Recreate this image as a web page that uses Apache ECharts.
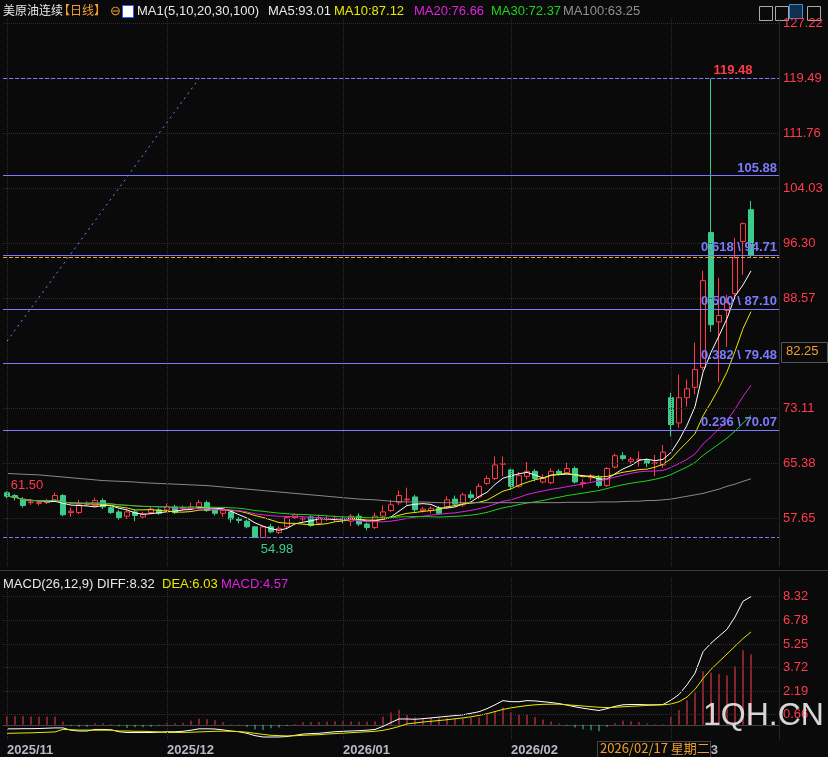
<!DOCTYPE html>
<html><head><meta charset="utf-8">
<script src="https://cdn.jsdelivr.net/npm/echarts@6/dist/echarts.min.js"></script>
<style>html,body{margin:0;padding:0;background:#0a0a0a}#c{width:828px;height:757px}</style>
</head><body><div id="c"></div><script>
const opens  = [61.3,60.9,60.4,59.9,59.8,59.9,60.2,60.9,58.5,58.5,59.7,59.5,60.2,59.2,58.6,58.0,58.6,57.9,58.5,58.9,58.9,59.3,59.1,59.1,59.3,59.9,58.8,58.4,58.6,57.6,57.3,56.5,55.0,56.5,55.7,56.5,57.8,57.6,57.9,57.0,57.6,57.6,57.7,57.3,58.0,56.9,56.4,58.0,58.8,59.9,60.3,60.7,58.8,58.8,59.1,59.3,60.4,59.6,61.0,60.7,62.6,63.3,65.3,64.5,62.2,63.6,64.3,62.8,62.7,64.3,64.1,64.7,62.6,63.4,63.4,62.3,64.9,66.5,65.7,65.9,65.8,65.4,65.2,74.65,71.1,74.65,76.1,78.9,97.85,85.3,86.9,89.3,96.6,101.07];
const closes = [60.8,60.6,59.5,60.0,59.9,60.1,60.9,58.2,58.7,59.6,59.8,60.2,59.3,58.5,57.8,58.6,58.1,58.3,59.0,58.4,59.3,58.5,59.2,59.3,59.9,58.8,58.4,58.8,57.6,57.4,56.5,55.0,56.5,55.8,56.3,57.8,58.2,57.7,56.7,57.8,57.7,57.7,57.5,58.0,56.9,56.4,58.0,58.6,59.6,60.9,60.4,58.9,59.0,59.1,58.4,60.3,59.7,61.0,60.6,62.2,63.3,65.2,65.4,62.2,63.7,64.3,63.3,63.3,64.3,64.0,64.7,62.8,62.7,63.6,62.3,64.7,66.5,66.1,66.0,66.0,65.4,65.5,67.0,70.86,74.65,75.9,78.6,91.1,84.9,86.2,88.0,94.3,99.1,94.71];
const lows   = [60.5,60.2,59.2,59.6,59.5,59.7,60.0,58.0,57.9,58.3,59.4,59.3,59.0,58.3,57.5,57.6,57.3,57.7,58.3,58.2,58.7,58.3,58.8,58.9,59.1,58.6,58.1,57.9,57.1,57.0,56.3,54.98,54.98,55.6,55.5,56.3,57.6,57.3,56.5,56.8,57.3,57.3,57.0,56.6,56.6,56.0,56.2,57.6,58.6,59.6,59.6,58.6,58.5,58.4,58.2,59.1,59.4,59.3,60.3,60.4,62.4,63.1,63.6,61.7,62.0,63.2,62.9,62.6,62.5,63.7,63.9,62.6,62.0,62.9,62.0,62.1,64.7,65.8,65.4,65.0,64.9,63.6,64.8,69.2,70.4,73.4,75.1,78.5,83.9,76.8,81.8,88.4,91.9,94.3];
const highs  = [61.5,61.1,60.7,60.4,60.1,60.4,61.3,61.1,59.2,60.3,60.1,60.6,60.5,59.5,58.9,58.9,58.9,58.6,59.3,59.2,59.8,59.6,59.5,59.9,60.3,60.2,59.0,59.0,58.8,57.9,57.5,56.6,56.6,56.9,56.6,58.0,58.4,58.0,58.1,58.2,58.0,58.1,58.0,58.3,58.4,57.1,58.5,59.5,60.3,61.6,62.0,61.0,59.3,59.4,59.4,60.8,60.9,61.3,61.6,62.6,63.7,66.4,66.4,64.7,64.2,65.6,64.6,63.9,64.7,64.6,65.5,65.0,63.2,63.9,63.8,64.9,66.8,67.0,66.3,67.1,66.1,66.6,68.0,75.35,77.9,77.2,82.4,92.5,119.48,91.5,89.1,97.1,99.3,102.3];
const ma100  = [64.0,63.95,63.9,63.85,63.8,63.7,63.6,63.5,63.4,63.3,63.2,63.1,63.0,62.95,62.9,62.85,62.8,62.7,62.65,62.6,62.55,62.5,62.45,62.4,62.35,62.3,62.2,62.1,62.0,61.9,61.8,61.7,61.6,61.5,61.4,61.3,61.2,61.1,61.0,60.9,60.8,60.7,60.6,60.5,60.4,60.35,60.3,60.2,60.1,60.05,60.0,60.0,60.0,59.95,59.9,59.9,59.9,59.9,59.9,59.9,59.9,59.9,59.9,59.9,59.9,59.9,59.9,59.9,59.9,59.9,59.95,59.95,59.95,59.95,60.0,60.0,60.0,60.05,60.1,60.1,60.2,60.2,60.3,60.4,60.6,60.8,61.0,61.2,61.5,61.8,62.2,62.5,62.9,63.25];
const diff = [-0.26,-0.26,-0.25,-0.25,-0.24,-0.22,-0.2,-0.2,-0.35,-0.4,-0.4,-0.3,-0.3,-0.32,-0.45,-0.5,-0.5,-0.5,-0.5,-0.48,-0.45,-0.45,-0.42,-0.35,-0.26,-0.26,-0.27,-0.33,-0.4,-0.45,-0.55,-0.7,-0.79,-0.79,-0.79,-0.76,-0.68,-0.6,-0.57,-0.55,-0.5,-0.45,-0.42,-0.4,-0.38,-0.35,-0.3,-0.1,0.15,0.38,0.38,0.36,0.4,0.45,0.5,0.55,0.6,0.65,0.75,0.85,1.05,1.3,1.57,1.5,1.5,1.57,1.55,1.5,1.45,1.38,1.28,1.17,1.08,1.0,0.93,1.05,1.2,1.3,1.32,1.32,1.3,1.3,1.32,1.6,1.97,2.6,3.35,4.74,5.3,5.75,6.2,7.0,8.02,8.32];
const dea = [-0.55,-0.54,-0.53,-0.52,-0.5,-0.48,-0.46,-0.3,-0.32,-0.34,-0.34,-0.35,-0.35,-0.35,-0.4,-0.4,-0.42,-0.42,-0.44,-0.46,-0.5,-0.5,-0.49,-0.48,-0.46,-0.44,-0.42,-0.41,-0.42,-0.44,-0.48,-0.55,-0.62,-0.68,-0.7,-0.72,-0.71,-0.68,-0.66,-0.64,-0.6,-0.57,-0.54,-0.51,-0.48,-0.45,-0.42,-0.36,-0.25,-0.11,0.06,0.12,0.18,0.23,0.28,0.33,0.39,0.45,0.52,0.61,0.72,0.86,1.0,1.1,1.18,1.25,1.3,1.33,1.34,1.34,1.3,1.26,1.22,1.18,1.14,1.12,1.14,1.17,1.2,1.23,1.26,1.28,1.3,1.35,1.5,1.8,2.3,3.0,3.6,4.1,4.6,5.1,5.6,6.03];
const monthLabels = {0:'2025/11',20:'2025/12',42:'2026/01',63:'2026/02',83:'2026/03'};
const priceTicks = [57.65,65.38,73.11,88.57,96.30,104.03,111.76,119.49,127.22];
const macdTicks = [0.66,2.19,3.72,5.25,6.78,8.32];
const fibLevels = [[70.07,'0.236 \\ 70.07'],[79.48,'0.382 \\ 79.48'],[87.10,'0.500 \\ 87.10'],[94.71,'0.618 \\ 94.71'],[105.88,'105.88']];

const N = 97;
const cats = []; for (let i=0;i<N;i++) cats.push(String(i));
const kdata = opens.map((o,i)=>[o,closes[i],lows[i],highs[i]]);
function ma(n){return closes.map((c,i)=>{const s=Math.max(0,i-n+1);let t=0;for(let j=s;j<=i;j++)t+=closes[j];return +(t/(i-s+1)).toFixed(3);});}
const macdBars = diff.map((d,i)=>+(2*(d-dea[i])).toFixed(3));

const RED='#ff3b4b', GRN='#3ccb8b', BLUE='#7b7bff';
const dotted = {color:'#2e2e2e',type:'dotted',width:1};
const mlBase = {symbol:'none',silent:true,animation:false};

const chart = echarts.init(document.getElementById('c'));
const FC = '12px "Noto Sans CJK SC", sans-serif';
const FL = '13px "Liberation Sans", Arial, sans-serif';
const hText=(x,y,t,c,f)=>({type:'text',left:x,top:y,z:10,style:{text:t,fill:c,font:f||FL}});
chart.setOption({
  backgroundColor:'#0a0a0a',
  animation:false,
  grid:[{left:3,top:18,width:776,height:548},{left:3,top:578,width:776,height:164}],
  xAxis:[
    {type:'category',data:cats,gridIndex:0,axisLabel:{show:false},axisTick:{show:false},axisLine:{show:false},splitLine:{show:false}},
    {type:'category',data:cats,gridIndex:1,axisTick:{show:false},axisLine:{lineStyle:{color:'#444'}},splitLine:{show:false},
     axisLabel:{interval:0,color:'#b8b8c8',fontSize:13,fontWeight:'bold',align:'left',margin:5,formatter:(v)=>monthLabels[+v]||''}}
  ],
  yAxis:[
    {gridIndex:0,position:'right',min:51,max:128,splitLine:{show:false},axisTick:{show:false},axisLine:{show:true,lineStyle:{color:'#2e2e2e',type:'dotted'}},
     axisLabel:{customValues:priceTicks,color:RED,fontSize:13,margin:4,formatter:v=>v.toFixed(2)}},
    {gridIndex:1,position:'right',min:-0.92,max:9.53,splitLine:{show:false},axisTick:{show:false},axisLine:{show:true,lineStyle:{color:'#2e2e2e',type:'dotted'}},
     axisLabel:{customValues:macdTicks,color:RED,fontSize:13,margin:4,formatter:v=>v.toFixed(2)}}
  ],
  series:[
    {type:'candlestick',name:'K',data:kdata,xAxisIndex:0,yAxisIndex:0,barWidth:'70%',
     itemStyle:{color:'#0a0a0a',color0:GRN,borderColor:RED,borderColor0:GRN,borderWidth:1},
     markPoint:{symbol:'circle',symbolSize:0,silent:true,data:[
       {coord:['0',61.5],label:{show:true,formatter:'61.50',color:RED,fontSize:13,position:'top',offset:[20,6]}},
       {coord:['31',54.98],label:{show:true,formatter:'54.98',color:GRN,fontSize:13,position:'bottom',offset:[22,0]}},
       {coord:['88',119.48],label:{show:true,formatter:'119.48',color:RED,fontSize:13,fontWeight:'bold',position:'top',offset:[22,3]}}
     ]},
     markLine:Object.assign({},mlBase,{data:[
       ...priceTicks.map(v=>({yAxis:v,lineStyle:dotted,label:{show:false}})),
       ...[0,20,42,63,83].map(i=>({xAxis:String(i),lineStyle:dotted,label:{show:false}})),
       ...fibLevels.map(f=>({yAxis:f[0],lineStyle:{color:BLUE,type:'solid',width:1},label:{show:true,position:'insideEndTop',formatter:f[1],color:BLUE,fontSize:13,fontWeight:'bold',distance:[2,1]}})),
       {yAxis:119.48,lineStyle:{color:BLUE,type:'dashed',width:1},label:{show:false}},
       {yAxis:54.98,lineStyle:{color:BLUE,type:'dashed',width:1},label:{show:false}},
       {yAxis:94.45,lineStyle:{color:'#f0a030',type:'dashed',width:1},label:{show:false}},
       [{coord:['0',82.6],lineStyle:{color:BLUE,type:[2,4],width:1},label:{show:false}},{coord:['24',119.48]}]
     ]})},
    {type:'line',data:ma(5),symbol:'none',lineStyle:{color:'#ffffff',width:1},xAxisIndex:0,yAxisIndex:0},
    {type:'line',data:ma(10),symbol:'none',lineStyle:{color:'#e8e800',width:1},xAxisIndex:0,yAxisIndex:0},
    {type:'line',data:ma(20),symbol:'none',lineStyle:{color:'#e020e0',width:1},xAxisIndex:0,yAxisIndex:0},
    {type:'line',data:ma(30),symbol:'none',lineStyle:{color:'#20d020',width:1},xAxisIndex:0,yAxisIndex:0},
    {type:'line',data:ma100,symbol:'none',lineStyle:{color:'#888888',width:1},xAxisIndex:0,yAxisIndex:0},
    {type:'bar',data:macdBars.map(v=>({value:v,itemStyle:{color:v>=0?RED:GRN}})),barWidth:1,xAxisIndex:1,yAxisIndex:1,
     markLine:Object.assign({},mlBase,{data:[
       ...macdTicks.map(v=>({yAxis:v,lineStyle:dotted,label:{show:false}})),
       ...[0,20,42,63,83].map(i=>({xAxis:String(i),lineStyle:dotted,label:{show:false}}))
     ]})},
    {type:'line',data:diff,symbol:'none',lineStyle:{color:'#ffffff',width:1},xAxisIndex:1,yAxisIndex:1},
    {type:'line',data:dea,symbol:'none',lineStyle:{color:'#e8e800',width:1},xAxisIndex:1,yAxisIndex:1}
  ],
  graphic:[
    {type:'rect',left:0,top:570,shape:{width:828,height:1},style:{fill:'#3a3a3a'}},
    hText(3,4,'美原油连续','#e8e8e8',FC),
    hText(58,4,'【日线】','#f0a030',FC),
    hText(110,5,'⊖','#f0a030'),
    {type:'rect',left:122,top:5,shape:{width:11,height:12},style:{fill:'#ffffff',stroke:'#3355ff'},z:10},
    hText(137,5,'MA1(5,10,20,30,100)','#e8e8e8'),
    hText(268,5,'MA5:93.01','#e8e8e8'),
    hText(334,5,'MA10:87.12','#e8e800'),
    hText(414,5,'MA20:76.66','#e020e0'),
    hText(491,5,'MA30:72.37','#20d020'),
    hText(563,5,'MA100:63.25','#909090'),
    {type:'rect',left:757,top:4,shape:{width:13,height:14},style:{fill:'none',stroke:'#aaa'}},
    {type:'rect',left:773,top:4,shape:{width:13,height:14},style:{fill:'none',stroke:'#aaa'}},
    {type:'rect',left:789,top:4,shape:{width:13,height:14},style:{fill:'#103050',stroke:'#3a8ee0'}},
    {type:'rect',left:805,top:4,shape:{width:13,height:14},style:{fill:'none',stroke:'#aaa'}},
    hText(3,578,'MACD(26,12,9) DIFF:8.32','#e8e8e8'),
    hText(162,578,'DEA:6.03','#e8e800'),
    hText(221,578,'MACD:4.57','#e020e0'),
    {type:'rect',left:781,top:342,z:20,shape:{width:46,height:20},style:{fill:'#0a0a0a',stroke:'#555'}},
    {type:'text',left:786,top:345,z:21,style:{text:'82.25',fill:'#f0a030',font:'13px sans-serif'}},
    {type:'text',left:703,top:700,z:20,style:{text:'1QH.CN',fill:'rgba(235,235,235,0.9)',font:'32px "Liberation Sans", sans-serif'}},
    {type:'rect',left:597,top:741,z:20,shape:{width:113,height:17},style:{fill:'#0a0a0a',stroke:'#444'}},
    {type:'text',left:600,top:742,z:21,style:{text:'2026/02/17 星期二',fill:'#f0a030',font:'13px "Noto Sans CJK SC", sans-serif'}}
  ]
});
</script></body></html>
